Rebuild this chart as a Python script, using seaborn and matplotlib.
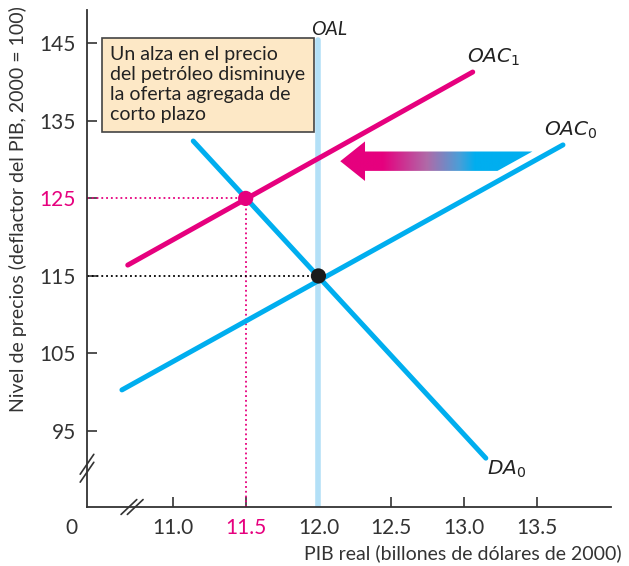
import numpy as np
import pandas as pd
import seaborn as sns
import matplotlib.pyplot as plt
from matplotlib.patches import Polygon
from matplotlib.colors import LinearSegmentedColormap

# Data
oal_x = [12.0, 12.0]
oal_y = [85.2, 145.4]
oac0_x = [10.65, 13.68]
oac0_y = [100.3, 131.9]
oac1_x = [10.69, 13.06]
oac1_y = [116.4, 141.3]
da0_x = [11.14, 13.15]
da0_y = [132.4, 91.5]
eq0 = (12.0, 115)
eq1 = (11.5, 125)
x_ticks = [11.0, 11.5, 12.0, 12.5, 13.0, 13.5]
y_ticks = [95, 105, 115, 125, 135, 145]

CYAN = '#00aeef'
MAGENTA = '#e6007e'
LIGHT = '#b3e0f7'
GREY = '#333333'

sns.set_style('ticks')
plt.rcParams['font.family'] = ['Lato', 'DejaVu Sans']

fig = plt.figure(figsize=(6.29, 5.66), dpi=100)
ax = fig.add_axes([87 / 629, 1 - 507 / 566, 524 / 629, 497 / 566])
XLIM = (10.41, 14.01)
YLIM = (85.2, 149.3)
ax.set_xlim(*XLIM)
ax.set_ylim(*YLIM)

# curves
line_kw = dict(ax=ax, estimator=None, sort=False)
sns.lineplot(x=oal_x, y=oal_y, color=LIGHT, lw=4, zorder=1, **line_kw)
sns.lineplot(x=oac0_x, y=oac0_y, color=CYAN, lw=3.6, zorder=2, **line_kw)
sns.lineplot(x=da0_x, y=da0_y, color=CYAN, lw=3.6, zorder=2, **line_kw)
sns.lineplot(x=oac1_x, y=oac1_y, color=MAGENTA, lw=3.6, zorder=3, **line_kw)

# guide lines
ax.plot([XLIM[0], eq1[0]], [eq1[1], eq1[1]], ls=':', color=MAGENTA, lw=1.3, zorder=1)
ax.plot([eq1[0], eq1[0]], [YLIM[0], eq1[1]], ls=':', color=MAGENTA, lw=1.3, zorder=1)
ax.plot([XLIM[0], eq0[0]], [eq0[1], eq0[1]], ls=':', color='black', lw=1.3, zorder=1)

pts = pd.DataFrame({'x': [eq1[0], eq0[0]], 'y': [eq1[1], eq0[1]], 'k': ['a', 'b']})
sns.scatterplot(data=pts, x='x', y='y', hue='k', palette=[MAGENTA, '#1a1a1a'],
                s=120, edgecolor='none', legend=False, ax=ax, zorder=5)

# shift arrow with gradient fill
tip_x, head_x, tail_top_x, tail_bot_x = 12.15, 12.32, 13.47, 13.23
arr_mid, body_h, head_h = 129.8, 1.25, 2.55
verts = [(tip_x, arr_mid), (head_x, arr_mid + head_h), (head_x, arr_mid + body_h),
         (tail_top_x, arr_mid + body_h), (tail_bot_x, arr_mid - body_h),
         (head_x, arr_mid - body_h), (head_x, arr_mid - head_h)]
poly = Polygon(verts, closed=True, facecolor='none', edgecolor='none')
ax.add_patch(poly)
cmap = LinearSegmentedColormap.from_list('shift', [(0, MAGENTA), (0.22, MAGENTA), (0.45, '#b06aa8'),
                                                    (0.62, '#4a9fd8'), (0.7, CYAN), (1, CYAN)])
grad = np.linspace(0, 1, 256).reshape(1, -1)
im = ax.imshow(grad, cmap=cmap, aspect='auto', extent=[tip_x, tail_top_x, arr_mid - head_h, arr_mid + head_h],
               zorder=4)
im.set_clip_path(poly)
ax.set_xlim(*XLIM)
ax.set_ylim(*YLIM)

# curve labels
ax.text(12.07, 146.8, 'OAL', style='italic', fontsize=14, ha='center', va='center', color='#222222')
ax.text(13.02, 143.2, r'$\mathit{OAC}_1$', fontsize=14.5, ha='left', va='center', color='#222222')
ax.text(13.55, 133.8, r'$\mathit{OAC}_0$', fontsize=14.5, ha='left', va='center', color='#222222')
ax.text(13.16, 90.1, r'$\mathit{DA}_0$', fontsize=14.5, ha='left', va='center', color='#222222')

ax.text(10.57, 144.6, 'Un alza en el precio\ndel petróleo disminuye\nla oferta agregada de\ncorto plazo',
        fontsize=14, ha='left', va='top', color='#222222', linespacing=1.2,
        bbox=dict(boxstyle='square,pad=0.45', facecolor='#fde8c6', edgecolor='#444444', lw=1.2))

# axes styling
sns.despine(ax=ax)
for s in ['left', 'bottom']:
    ax.spines[s].set_color(GREY)
    ax.spines[s].set_linewidth(1.3)
ax.set_xticks(x_ticks)
ax.set_xticklabels([f'{v:.1f}' for v in x_ticks])
ax.set_yticks(y_ticks)
ax.set_yticklabels([str(v) for v in y_ticks])
ax.tick_params(direction='in', length=7, width=1.2, color=GREY, labelsize=15, labelcolor=GREY, pad=8)
ax.get_xticklabels()[1].set_color(MAGENTA)
ax.get_yticklabels()[3].set_color(MAGENTA)

ax.set_xlabel('PIB real (billones de dólares de 2000)', fontsize=14, color=GREY, loc='right')
ax.xaxis.set_label_coords(1.02, -0.075)
ax.xaxis.label.set_ha('right')
ax.set_ylabel('Nivel de precios (deflactor del PIB, 2000 = 100)', fontsize=14, color=GREY)
ax.yaxis.set_label_coords(-0.115, 0.6)

ax.text(-0.03, -0.022, '0', transform=ax.transAxes, fontsize=15, color=GREY, ha='center', va='top')

# axis break marks
for dx in (0, 0.012):
    ax.plot([0.065 + dx, 0.095 + dx], [-0.015, 0.015], transform=ax.transAxes, color=GREY,
            lw=1.2, clip_on=False)
for dy in (0, 0.016):
    ax.plot([-0.013, 0.013], [0.05 + dy, 0.09 + dy], transform=ax.transAxes, color=GREY,
            lw=1.2, clip_on=False)

fig.savefig('out.png', dpi=100)
